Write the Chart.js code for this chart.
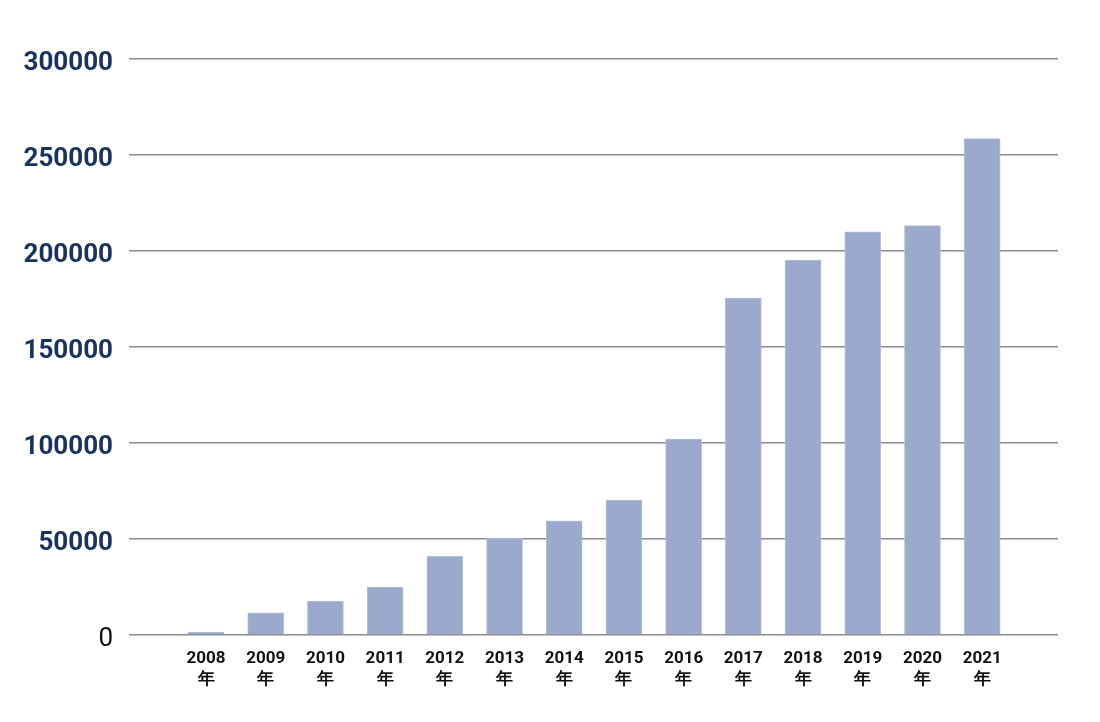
<!DOCTYPE html>
<html>
<head>
<meta charset="utf-8">
<script src="https://cdn.jsdelivr.net/npm/chart.js@4/dist/chart.umd.min.js"></script>
<style>
  html, body { margin: 0; padding: 0; background: #fff; }
  #wrap { width: 1100px; height: 722px; }
</style>
</head>
<body>
<div id="wrap"><canvas id="chart"></canvas></div>
<script>
// Data
const years = ['2008', '2009', '2010', '2011', '2012', '2013', '2014', '2015', '2016', '2017', '2018', '2019', '2020', '2021'];
const values = [1500, 11500, 17700, 25000, 41000, 50500, 59400, 70300, 102000, 175500, 195300, 210000, 213200, 258500];
const yTicks = [0, 50000, 100000, 150000, 200000, 250000, 300000];

const points = values.map((v, i) => ({ x: i, y: v }));

// zero label is drawn plain, the others bold navy
const isZero = ctx => !!(ctx.tick && ctx.tick.value === 0);

new Chart(document.getElementById('chart'), {
    type: 'bar',
    data: {
        datasets: [{
            data: points,
            backgroundColor: '#9ba9cd',
            borderColor: '#b3bedb',
            borderWidth: 1,
            barThickness: 36
        }]
    },
    options: {
        responsive: true,
        maintainAspectRatio: false,
        animation: false,
        layout: { padding: { top: 59, right: 42, left: 0, bottom: 0 } },
        plugins: { legend: { display: false }, tooltip: { enabled: false } },
        scales: {
            x: {
                type: 'linear',
                offset: false,
                min: -1.29,
                max: 14.27,
                grid: { display: false, offset: false },
                border: { display: false },
                afterBuildTicks: scale => { scale.ticks = years.map((_, i) => ({ value: i })); },
                afterFit: scale => { scale.height = 87; },
                ticks: {
                    autoSkip: false,
                    maxRotation: 0,
                    padding: 5,
                    color: '#111',
                    font: { family: 'Roboto', weight: 'bold', size: 17, lineHeight: 1.25 },
                    callback: v => [years[v], '年']
                }
            },
            y: {
                min: 0,
                max: 300000,
                grid: { color: '#8c8c8c', lineWidth: 1.5, drawTicks: false },
                border: { display: false },
                afterBuildTicks: scale => { scale.ticks = yTicks.map(v => ({ value: v })); },
                afterFit: scale => { scale.width = 129; },
                ticks: {
                    padding: 16,
                    labelOffset: 4,
                    callback: v => String(v),
                    color: ctx => isZero(ctx) ? '#111' : '#17335f',
                    font: ctx => ({
                        family: 'Roboto',
                        size: 26,
                        weight: isZero(ctx) ? 'normal' : 'bold'
                    })
                }
            }
        }
    }
});
</script>
</body>
</html>
